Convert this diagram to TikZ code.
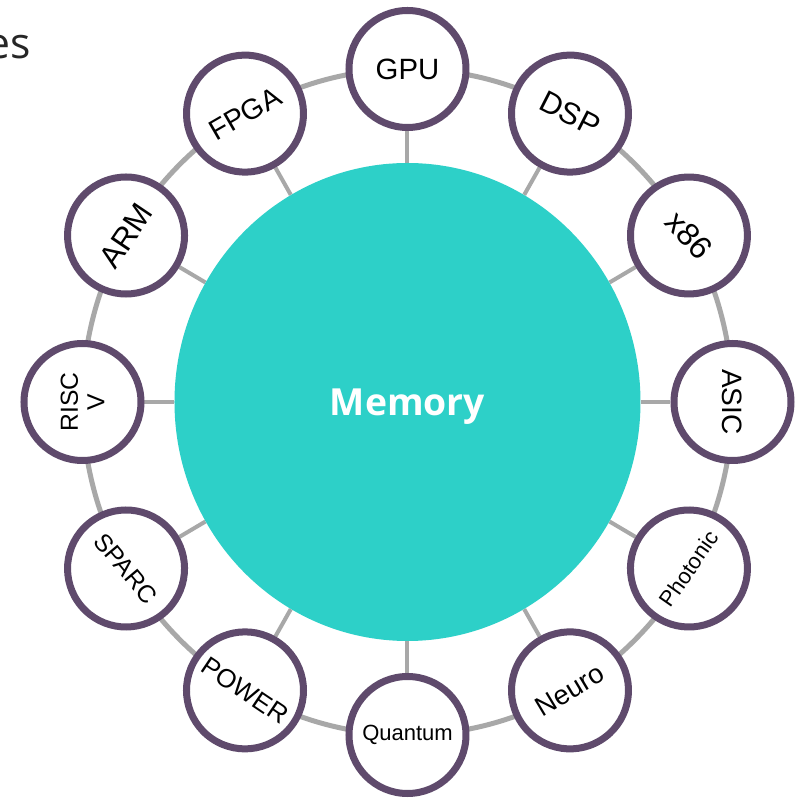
\documentclass[tikz,border=0pt]{standalone}
\usepackage{fontspec}
\setmainfont{Liberation Sans}
\newfontfamily\memfont{Open Sans}
\usepackage{xcolor}
\usetikzlibrary{shapes.geometric,backgrounds}
\definecolor{memteal}{HTML}{2DD0C8}
\definecolor{unitrim}{HTML}{5F4A6C}
\definecolor{linkgray}{HTML}{A8A8A8}

\begin{document}
\begin{tikzpicture}[x=0.75pt,y=0.75pt,
  unit/.style={circle, draw=unitrim, line width=5.25pt, fill=white, minimum size=87.75pt, inner sep=0pt, align=center},
  spoke/.style={draw=linkgray, line width=3pt},
  ring/.style={draw=linkgray, line width=3.75pt}]
  \useasboundingbox (-407.5,-397) rectangle (400.5,402);
  \node[anchor=base east, inner sep=0pt, text=black!85, font=\memfont\fontsize{32}{38}\selectfont] (es) at (-376.5,343) {es};
  \node[ellipse, fill=memteal, minimum width=349.5pt, minimum height=358.5pt, inner sep=0pt, text depth=0pt, text=white, font=\memfont\bfseries\fontsize{28}{32}\selectfont] (mem) at (0,0) {Memory};
  % processing units round the ring
  \node[unit, font=\fontsize{22}{24}\selectfont] (gpu) at (90:325 and 333) {GPU};
  \node[unit, font=\fontsize{23}{25}\selectfont, rotate=-27] (dsp) at (60:325 and 333) {DSP};
  \node[unit, font=\fontsize{24}{26}\selectfont, rotate=-48] (x86) at (30:325 and 333) {x86};
  \node[unit, font=\fontsize{21}{23}\selectfont, rotate=-90] (asic) at (0:325 and 333) {ASIC};
  \node[unit, font=\fontsize{16.5}{18}\selectfont, rotate=55] (photonic) at (-30:325 and 333) {Photonic};
  \node[unit, font=\fontsize{20.5}{22}\selectfont, rotate=31] (neuro) at (-60:325 and 333) {Neuro};
  \node[unit, font=\fontsize{16.5}{18}\selectfont] (quantum) at (-90:325 and 333) {Quantum};
  \node[unit, font=\fontsize{19.5}{21}\selectfont, rotate=-34] (power) at (-120:325 and 333) {POWER};
  \node[unit, font=\fontsize{18.5}{18.5}\selectfont, rotate=-50] (sparc) at (-150:325 and 333) {SPARC};
  \node[unit, font=\fontsize{18.5}{20}\selectfont, rotate=90] (riscv) at (180:325 and 333) {RISC\\V};
  \node[unit, font=\fontsize{23.5}{25}\selectfont, rotate=56] (arm) at (150:325 and 333) {ARM};
  \node[unit, font=\fontsize{21.5}{23}\selectfont, rotate=30] (fpga) at (120:325 and 333) {FPGA};
  % links behind the units
  \begin{scope}[on background layer]
    \fill[white] (-407.5,-397) rectangle (400.5,402);
    \draw[ring] (mem.center) ellipse [x radius=325, y radius=333];
    \draw[spoke] (mem) -- (gpu);
    \draw[spoke] (mem) -- (dsp);
    \draw[spoke] (mem) -- (x86);
    \draw[spoke] (mem) -- (asic);
    \draw[spoke] (mem) -- (photonic);
    \draw[spoke] (mem) -- (neuro);
    \draw[spoke] (mem) -- (quantum);
    \draw[spoke] (mem) -- (power);
    \draw[spoke] (mem) -- (sparc);
    \draw[spoke] (mem) -- (riscv);
    \draw[spoke] (mem) -- (arm);
    \draw[spoke] (mem) -- (fpga);
  \end{scope}
\end{tikzpicture}
\end{document}
